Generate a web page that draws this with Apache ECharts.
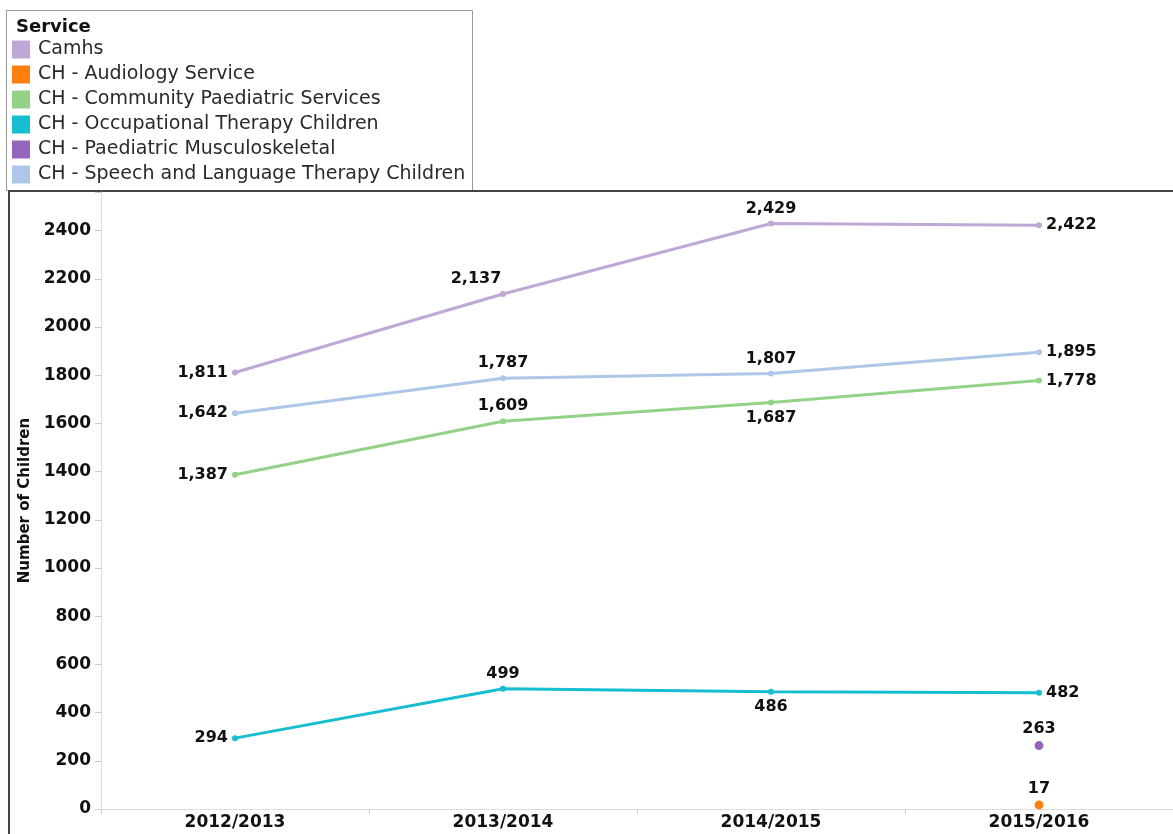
<!DOCTYPE html>
<html>
<head>
<meta charset="utf-8">
<script src="https://cdn.jsdelivr.net/npm/echarts@6/dist/echarts.min.js"></script>
<style>
  html, body { margin: 0; padding: 0; background: #fff; }
  #chart { width: 1173px; height: 834px; }
</style>
</head>
<body>
<div id="chart"></div>
<script>
const years = ['2012/2013', '2013/2014', '2014/2015', '2015/2016'];
const serviceNames = [
  'Camhs',
  'CH - Audiology Service',
  'CH - Community Paediatric Services',
  'CH - Occupational Therapy Children',
  'CH - Paediatric Musculoskeletal',
  'CH - Speech and Language Therapy Children'
];
const camhs = [1811, 2137, 2429, 2422];
const audiology = [null, null, null, 17];
const community = [1387, 1609, 1687, 1778];
const occupational = [294, 499, 486, 482];
const musculo = [null, null, null, 263];
const speech = [1642, 1787, 1807, 1895];
const yTicks = [0, 200, 400, 600, 800, 1000, 1200, 1400, 1600, 1800, 2000, 2200, 2400];

const colors = ['#c0a8d6', '#ff7f0e', '#93d287', '#17becf', '#9467bd', '#aec7e8'];
const FONT = 'DejaVu Sans, Verdana, sans-serif';

// where each value label sits
const labelPos = [
  ['left', 'top', 'top', 'right'],
  [null, null, null, 'top'],
  ['left', 'top', 'bottom', 'right'],
  ['left', 'top', 'bottom', 'right'],
  [null, null, null, 'top'],
  ['left', 'top', 'top', 'right']
];
const allValues = [camhs, audiology, community, occupational, musculo, speech];

function fmt(v) {
  return String(v).replace(/\B(?=(\d{3})+(?!\d))/g, ',');
}

const chart = echarts.init(document.getElementById('chart'));

const series = allValues.map((vals, i) => {
  const single = vals.filter(v => v != null).length === 1;
  return {
    name: serviceNames[i],
    type: 'line',
    data: vals.map((v, j) => v == null ? null : {
      value: v,
      label: { position: labelPos[i][j], offset: (i === 0 && j === 1) ? [-27, 0] : [0, 0] }
    }),
    symbol: 'circle',
    symbolSize: single ? 9 : 6,
    showAllSymbol: true,
    connectNulls: false,
    lineStyle: { width: 3, color: colors[i] },
    itemStyle: { color: colors[i] },
    label: {
      show: true,
      formatter: p => fmt(p.value),
      fontFamily: FONT,
      fontWeight: 'bold',
      fontSize: 16,
      color: '#111',
      distance: 4
    },
    emphasis: { disabled: true }
  };
});

const option = {
  animation: false,
  color: colors,
  textStyle: { fontFamily: FONT },
  title: {
    text: 'Service',
    left: 11,
    top: 13,
    textStyle: { fontFamily: FONT, fontSize: 18, fontWeight: 'bold', color: '#111' }
  },
  legend: {
    orient: 'vertical',
    left: 12,
    top: 40,
    icon: 'rect',
    itemWidth: 18,
    itemHeight: 18,
    itemGap: 6,
    padding: 0,
    textStyle: { fontFamily: FONT, fontSize: 19, color: '#2a2a2a', padding: [0, 0, 0, 3] },
    data: serviceNames
  },
  graphic: [
    { type: 'rect', shape: { x: 6.5, y: 10.5, width: 466, height: 180 },
      style: { fill: 'none', stroke: '#999', lineWidth: 1 } },
    { type: 'polyline', shape: { points: [[9, 834], [9, 191], [1173, 191]] },
      style: { fill: 'none', stroke: '#444', lineWidth: 2 } }
  ],
  grid: { left: 101, top: 192, width: 1077, bottom: 25, containLabel: false },
  xAxis: {
    type: 'category',
    data: years,
    boundaryGap: true,
    axisLine: { lineStyle: { color: '#ddd', width: 1 } },
    axisTick: { show: true, length: 5, lineStyle: { color: '#ccc' } },
    axisLabel: { fontFamily: FONT, fontSize: 17, fontWeight: 'bold', color: '#111', margin: 5 }
  },
  yAxis: {
    type: 'value',
    min: 0,
    max: 2560,
    interval: 200,
    name: 'Number of Children',
    nameLocation: 'middle',
    nameRotate: 90,
    nameGap: 64,
    nameTextStyle: { fontFamily: FONT, fontSize: 15, fontWeight: 'bold', color: '#111' },
    axisLine: { show: true, lineStyle: { color: '#ddd' } },
    axisTick: { show: true, length: 6, lineStyle: { color: '#ccc' } },
    splitLine: { show: false },
    axisLabel: {
      fontFamily: FONT,
      fontSize: 17,
      fontWeight: 'bold',
      color: '#111',
      margin: 10,
      formatter: v => yTicks.includes(v) ? String(v) : ''
    }
  },
  series: series
};

chart.setOption(option);
</script>
</body>
</html>
